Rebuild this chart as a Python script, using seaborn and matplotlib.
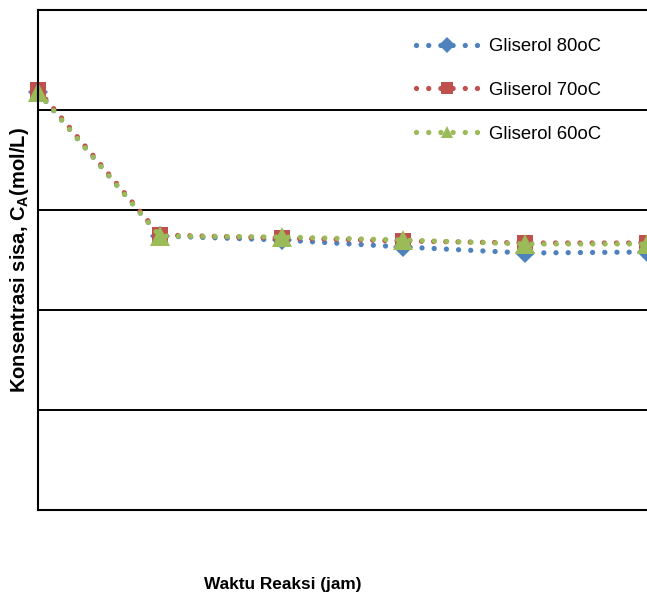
import matplotlib
matplotlib.use("Agg")
import matplotlib.pyplot as plt
import seaborn as sns
import pandas as pd

sns.set_theme(style="white")
plt.rcParams['font.family'] = ['Liberation Sans', 'DejaVu Sans']
plt.rcParams['mathtext.fontset'] = 'custom'
plt.rcParams['mathtext.bf'] = 'Liberation Sans:bold'
plt.rcParams['mathtext.rm'] = 'Liberation Sans:bold'

# data (reaction time in hours, residual concentration)
waktu = [0, 1, 2, 3, 4, 5]
gliserol_80 = [0.418, 0.274, 0.270, 0.263, 0.257, 0.258]
gliserol_70 = [0.420, 0.275, 0.272, 0.269, 0.267, 0.267]
gliserol_60 = [0.418, 0.274, 0.273, 0.270, 0.266, 0.266]
labels = ['Gliserol 80oC', 'Gliserol 70oC', 'Gliserol 60oC']

series = [
    (labels[0], gliserol_80, '#4F81BD', 'D', 10),
    (labels[1], gliserol_70, '#C0504D', 's', 11),
    (labels[2], gliserol_60, '#9BBB59', '^', 15),
]

fig = plt.figure(figsize=(6.47, 5.94), dpi=100)
ax = fig.add_axes([38 / 647, 84 / 594, 609 / 647, 500 / 594])

for name, vals, col, mk, ms in series:
    df = pd.DataFrame({'waktu': waktu, 'konsentrasi': vals})
    sns.lineplot(data=df, x='waktu', y='konsentrasi', ax=ax, color=col,
                 marker=mk, markersize=ms, markeredgewidth=0, linewidth=3.8,
                 dashes=(0.01, 2.3), dash_capstyle='round', label=name,
                 clip_on=False)

ax.set_xlim(0, 5)
ax.set_ylim(0, 0.5)
ax.set_yticks([0.1, 0.2, 0.3, 0.4])
ax.set_xticks([])
ax.set_yticklabels([])
ax.tick_params(length=0)
ax.grid(axis='y', color='black', linewidth=1.4)
ax.set_axisbelow(True)
ax.spines['right'].set_visible(False)
for side in ['left', 'bottom', 'top']:
    ax.spines[side].set_color('black')
    ax.spines[side].set_linewidth(1.5)

ax.set_ylabel(r'Konsentrasi sisa, C$_{\mathbf{A}}$(mol/L)', fontsize=14.5,
              fontweight='bold', color='black')
ax.yaxis.set_label_coords(-0.012, 0.5)
ax.set_xlabel('Waktu Reaksi (jam)', fontsize=12.4, fontweight='bold', color='black')
ax.xaxis.set_label_coords(0.402, -0.133)

leg = ax.legend(loc='upper left', bbox_to_anchor=(0.62, 0.944), frameon=False,
                fontsize=13.3, handlelength=3.4, handletextpad=0.55,
                labelspacing=1.45, borderaxespad=0, borderpad=0)
for h in leg.legend_handles:
    h.set_markersize(8)
for t in leg.get_texts():
    t.set_color('black')

plt.savefig('out.png', dpi=100)
